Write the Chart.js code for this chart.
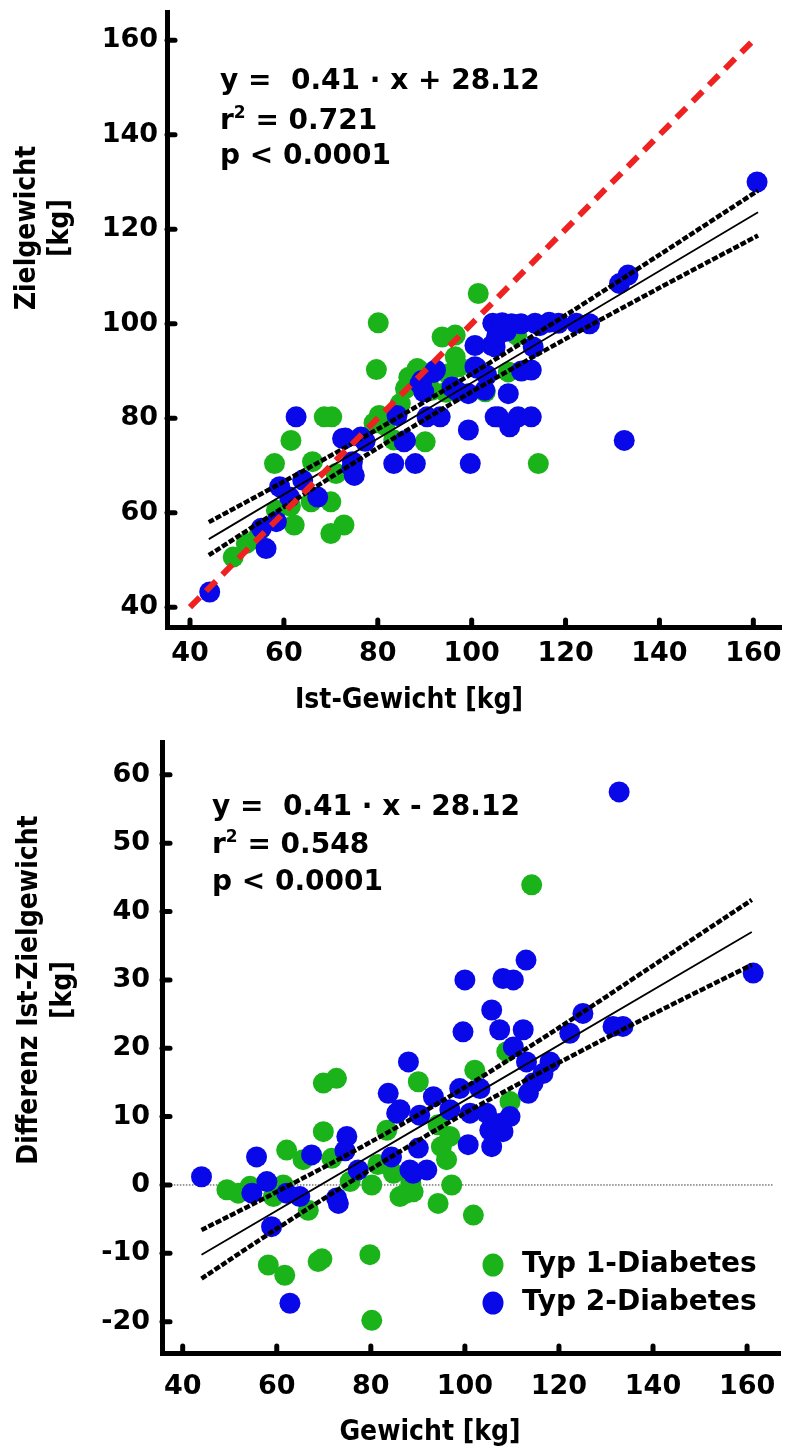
<!DOCTYPE html>
<html>
<head>
<meta charset="utf-8">
<script src="https://cdn.jsdelivr.net/npm/chart.js@4.4.1/dist/chart.umd.min.js"></script>
<style>
  html, body { margin: 0; padding: 0; background: #fff; }
  #wrap { position: relative; width: 792px; height: 1450px; }
  canvas { position: absolute; left: 0; }
  #top { top: 0; }
  #bottom { top: 720px; }
</style>
</head>
<body>
<div id="wrap">
  <canvas id="top" width="792" height="720"></canvas>
  <canvas id="bottom" width="792" height="730"></canvas>
</div>
<script>
// ---- values ----
var xTicks = [40, 60, 80, 100, 120, 140, 160];
var zielTicks = [40, 60, 80, 100, 120, 140, 160];
var diffTicks = [-20, -10, 0, 10, 20, 30, 40, 50, 60];

// upper panel: Ist-Gewicht vs Zielgewicht
var zielT1X = [101.4, 80.1, 79.7, 93.7, 96.5, 96.5, 97.2, 102.9, 88.4, 86.6,
               85.9, 80.3, 79.2, 90.1, 68.6, 70.2, 61.5, 58.0, 66.1, 71.1,
               65.8, 70.0, 62.2, 70.0, 72.8, 58.4, 52.0, 49.2, 109.6, 107.8,
               114.2, 91.5, 83.4, 84.8, 54.3, 61.4, 89.0, 94.5, 81.5, 95.0];
var zielT1Y = [106.4, 100.2, 90.3, 97.2, 97.6, 93.0, 90.9, 85.6, 90.5, 88.7,
               86.3, 80.6, 79.0, 75.0, 80.3, 80.3, 75.3, 70.4, 70.8, 68.3,
               62.3, 62.3, 57.4, 55.6, 57.4, 60.5, 53.5, 50.6, 97.6, 89.8,
               70.4, 85.9, 75.4, 83.1, 54.5, 61.4, 90.0, 85.5, 78.5, 89.4];
var zielT2X = [44.2, 56.2, 55.2, 58.4, 61.2, 59.1, 64.0, 67.2, 62.6, 72.5,
               76.4, 74.6, 75.0, 84.1, 90.5, 93.3, 85.6, 83.4, 88.0, 92.3,
               89.4, 89.8, 95.8, 100.7, 104.3, 100.7, 99.3, 105.0, 99.3, 99.7,
               104.5, 106.5, 108.5, 110.5, 113.5, 116.5, 118.5, 122.3, 125.1, 112.7,
               110.6, 102.8, 107.8, 105.7, 108.1, 109.9, 112.7, 132.5, 85.9, 131.5,
               133.3, 160.8, 105.0, 101.1, 96.8, 91.9, 89.0, 114.5, 113.1, 107.4,
               105.3, 103.2, 77.3, 74.5, 73.1];
var zielT2Y = [43.2, 52.4, 56.7, 58.1, 63.3, 65.5, 66.9, 63.3, 80.3, 75.7,
               76.0, 70.8, 67.9, 80.6, 80.3, 80.3, 75.0, 70.4, 70.4, 90.2,
               88.0, 85.6, 86.6, 95.4, 95.4, 90.9, 85.2, 80.3, 77.5, 70.4,
               100.1, 100.2, 100.0, 100.0, 100.1, 100.3, 100.1, 100.1, 100.0, 90.2,
               90.0, 85.9, 85.2, 80.3, 78.2, 80.3, 80.3, 75.3, 75.3, 108.5,
               110.3, 130.0, 95.1, 90.6, 85.8, 89.7, 87.3, 99.6, 95.1, 98.4,
               97.3, 89.1, 75.1, 69.5, 75.8];
var zielFitX = [44, 161];
var zielFitY = [54.4, 123.6];
var bandX = [44, 60, 80, 100, 120, 140, 161];
var zielBandHi = [58.0, 66.6, 77.7, 89.4, 101.8, 114.6, 128.2];
var zielBandLo = [51.0, 61.2, 73.7, 85.6, 96.8, 107.6, 118.7];
var identX = [40, 160];
var identY = [40, 160];

// lower panel: Gewicht vs Differenz Ist-Zielgewicht
var diffT1X = [69.9, 72.7, 90.1, 102.1, 69.9, 62.1, 65.6, 71.7, 83.4, 94.3,
               96.8, 95.0, 96.1, 49.4, 51.8, 54.3, 59.3, 61.4, 66.7, 75.6,
               80.2, 84.8, 86.2, 89.0, 94.3, 97.2, 101.8, 58.2, 61.7, 68.8,
               69.6, 79.8, 80.2, 114.2, 108.9, 109.6, 88.5, 87.5, 81.5];
var diffT1Y = [14.9, 15.6, 15.1, 16.8, 7.8, 5.1, 3.7, 3.9, 8.0, 8.8,
               7.1, 5.6, 3.7, -0.7, -1.2, -0.2, -1.7, 0.0, -3.7, 0.5,
               0.0, 1.7, -1.7, -1.0, -2.7, 0.0, -4.4, -11.7, -13.2, -11.2,
               -10.8, -10.2, -19.8, 43.9, 19.5, 12.2, 0.3, -1.2, 3.0];
var diffT2X = [44.0, 55.7, 54.7, 57.9, 62.1, 64.9, 58.9, 62.8, 67.4, 72.7,
               73.1, 74.9, 74.5, 77.3, 88.0, 83.7, 85.5, 84.4, 90.4, 90.1,
               89.0, 91.9, 93.3, 99.6, 98.9, 100.7, 101.1, 132.8, 113.0, 100.0,
               108.1, 110.3, 105.7, 107.4, 112.4, 110.3, 113.1, 118.1, 116.6, 114.5,
               113.5, 125.1, 122.3, 131.5, 133.6, 161.3, 103.2, 104.6, 107.4, 109.6,
               105.3, 108.1, 105.7, 86.2, 88.3, 96.8];
var diffT2Y = [1.2, 4.1, -1.2, 0.5, -1.2, -1.7, -6.1, -17.3, 4.4, -1.9,
               -2.7, 7.1, 5.0, 2.2, 18.0, 13.4, 10.5, 4.1, 10.2, 5.4,
               1.7, 2.2, 12.9, 22.4, 14.1, 5.9, 10.5, 57.5, 32.9, 30.0,
               30.2, 30.0, 25.6, 22.7, 22.7, 20.2, 18.0, 18.0, 16.3, 14.9,
               13.4, 25.1, 22.2, 23.2, 23.2, 31.0, 14.1, 10.5, 9.0, 10.0,
               8.0, 7.8, 5.6, 11.0, 2.2, 11.0];
var diffFitX = [44, 161];
var diffFitY = [-10.2, 37.0];
var diffBandHi = [-6.6, -1.0, 6.3, 14.3, 23.0, 32.1, 41.7];
var diffBandLo = [-13.7, -6.4, 2.3, 10.5, 17.9, 25.0, 32.2];
var zeroX = [35.6, 165.5];
var zeroY = [0, 0];

var GREEN = '#1ab41a';
var BLUE = '#0808e8';
var RED = '#ef2222';
var WIDE = '"DejaVu Sans", Verdana, sans-serif';
var NARROW = '"DejaVu Sans Condensed", "DejaVu Sans", sans-serif';

var pts = function(xs, ys){
    return xs.map(function(x, i){ return {x: x, y: ys[i]}; });
};

var dots = function(xs, ys, color, order){
    return { data: pts(xs, ys), backgroundColor: color, borderColor: color,
             borderWidth: 0, pointRadius: 10.5, pointHoverRadius: 10.5, order: order };
};

var line = function(xs, ys, width, dash, color, order){
    return { data: pts(xs, ys), showLine: true, fill: false, pointRadius: 0,
             borderColor: color || '#000', borderWidth: width, borderDash: dash || [],
             tension: 0.3, order: order || 0 };
};

// short inward tick marks on both axes
var innerTicks = {
    id: 'innerTicks',
    afterDraw: function(chart){
        var ctx = chart.ctx, a = chart.chartArea;
        var sx = chart.scales.x, sy = chart.scales.y;
        ctx.save();
        ctx.strokeStyle = '#000';
        ctx.lineWidth = 5;
        ctx.lineCap = 'round';
        sx.ticks.forEach(function(t){
            var px = sx.getPixelForValue(t.value);
            ctx.beginPath(); ctx.moveTo(px, a.bottom); ctx.lineTo(px, a.bottom - 7); ctx.stroke();
        });
        sy.ticks.forEach(function(t){
            var py = sy.getPixelForValue(t.value);
            ctx.beginPath(); ctx.moveTo(a.left, py); ctx.lineTo(a.left + 8, py); ctx.stroke();
        });
        ctx.restore();
    }
};

var drawRich = function(ctx, x, y, parts){
    parts.forEach(function(p){
        ctx.font = p.sup ? 'bold 17px ' + WIDE : 'bold 28px ' + WIDE;
        ctx.fillText(p.t, x, p.sup ? y - 11 : y);
        x += ctx.measureText(p.t).width;
    });
};

var vText = function(ctx, text, x, y){
    ctx.save();
    ctx.translate(x, y);
    ctx.rotate(-Math.PI / 2);
    ctx.font = 'bold 28px ' + NARROW;
    ctx.textAlign = 'center';
    ctx.textBaseline = 'middle';
    ctx.fillText(text, 0, 0);
    ctx.restore();
};

// text that sits at fixed places around each panel
var decorations = {
    id: 'decorations',
    afterDraw: function(chart, args, o){
        var ctx = chart.ctx;
        ctx.save();
        ctx.fillStyle = '#000';
        ctx.textAlign = 'left';
        ctx.textBaseline = 'alphabetic';
        o.stats.forEach(function(row, i){
            drawRich(ctx, o.statsX, o.statsY[i], row);
        });
        ctx.font = 'bold 28px ' + NARROW;
        ctx.textAlign = 'center';
        ctx.fillText(o.xTitle, o.xTitleX, o.xTitleY);
        o.yTitle.forEach(function(t, i){
            vText(ctx, t, o.yTitleX[i], o.yTitleY);
        });
        if (o.legend) {
            o.legend.forEach(function(item){
                ctx.beginPath();
                ctx.fillStyle = item.color;
                ctx.ellipse(o.legendX, item.y, 10.5, 11.5, 0, 0, Math.PI * 2);
                ctx.fill();
                ctx.fillStyle = '#000';
                ctx.font = 'bold 28px ' + WIDE;
                ctx.textAlign = 'left';
                ctx.textBaseline = 'middle';
                ctx.fillText(item.text, o.legendX + 29, item.y);
            });
        }
        ctx.restore();
    }
};

var panel = function(id, o){
    return new Chart(document.getElementById(id), {
        type: 'scatter',
        data: { datasets: o.datasets },
        options: {
            responsive: false,
            animation: false,
            devicePixelRatio: 1,
            events: [],
            layout: { padding: o.padding },
            plugins: {
                legend: { display: false },
                tooltip: { enabled: false },
                decorations: o.deco
            },
            scales: {
                x: {
                    type: 'linear', min: o.xMin, max: o.xMax,
                    afterBuildTicks: function(s){ s.ticks = xTicks.map(function(v){ return {value: v}; }); },
                    afterFit: function(s){ s.height = o.xHeight; s.paddingLeft = 0; s.paddingRight = 0; },
                    grid: { display: false, drawTicks: false },
                    border: { display: true, width: 5, color: '#000' },
                    ticks: { color: '#000', padding: o.xPad, maxRotation: 0, autoSkip: false,
                             font: { family: WIDE, size: 27, weight: 'bold' } }
                },
                y: {
                    type: 'linear', min: o.yMin, max: o.yMax,
                    afterBuildTicks: function(s){ s.ticks = o.yTicks.map(function(v){ return {value: v}; }); },
                    afterFit: function(s){ s.width = o.yWidth; s.paddingTop = 0; s.paddingBottom = 0; },
                    grid: { display: false, drawTicks: false },
                    border: { display: true, width: 5, color: '#000' },
                    ticks: { color: '#000', padding: o.yPad, autoSkip: false,
                             font: { family: WIDE, size: 27, weight: 'bold' } }
                }
            }
        },
        plugins: [innerTicks, decorations]
    });
};

panel('top', {
    padding: { top: 12, right: 7, bottom: 0, left: 0 },
    xMin: 35.1, xMax: 166, yMin: 35.8, yMax: 166,
    xHeight: 93, yWidth: 167, xPad: 11, yPad: 9,
    yTicks: zielTicks,
    datasets: [
        line(identX, identY, 6, [14, 9], RED, 0),
        line(zielFitX, zielFitY, 1.8, [], '#000', 1),
        line(bandX, zielBandHi, 4.5, [6, 2], '#000', 1),
        line(bandX, zielBandLo, 4.5, [6, 2], '#000', 1),
        dots(zielT2X, zielT2Y, BLUE, 2),
        dots(zielT1X, zielT1Y, GREEN, 3)
    ],
    deco: {
        statsX: 220, statsY: [89, 129, 164],
        stats: [
            [{t: 'y =  0.41 · x + 28.12'}],
            [{t: 'r'}, {t: '2', sup: true}, {t: ' = 0.721'}],
            [{t: 'p < 0.0001'}]
        ],
        xTitle: 'Ist-Gewicht [kg]', xTitleX: 409, xTitleY: 708,
        yTitle: ['Zielgewicht', '[kg]'], yTitleX: [28, 61], yTitleY: 228
    }
});

panel('bottom', {
    padding: { top: 22, right: 12, bottom: 0, left: 0 },
    xMin: 35.6, xMax: 167, yMin: -24.58, yMax: 64.8,
    xHeight: 97, yWidth: 162, xPad: 18, yPad: 12,
    yTicks: diffTicks,
    datasets: [
        line(diffFitX, diffFitY, 1.8, [], '#000', 1),
        line(bandX, diffBandHi, 4.5, [6, 2], '#000', 1),
        line(bandX, diffBandLo, 4.5, [6, 2], '#000', 1),
        dots(diffT2X, diffT2Y, BLUE, 2),
        dots(diffT1X, diffT1Y, GREEN, 3),
        line(zeroX, zeroY, 1, [1.5, 1.5], '#333', 4)
    ],
    deco: {
        statsX: 212, statsY: [95, 133, 170],
        stats: [
            [{t: 'y =  0.41 · x - 28.12'}],
            [{t: 'r'}, {t: '2', sup: true}, {t: ' = 0.548'}],
            [{t: 'p < 0.0001'}]
        ],
        xTitle: 'Gewicht [kg]', xTitleX: 430, xTitleY: 720,
        yTitle: ['Differenz Ist-Zielgewicht', '[kg]'], yTitleX: [30, 64], yTitleY: 270,
        legendX: 493,
        legend: [
            {text: 'Typ 1-Diabetes', color: GREEN, y: 545},
            {text: 'Typ 2-Diabetes', color: BLUE, y: 583}
        ]
    }
});
</script>
</body>
</html>
